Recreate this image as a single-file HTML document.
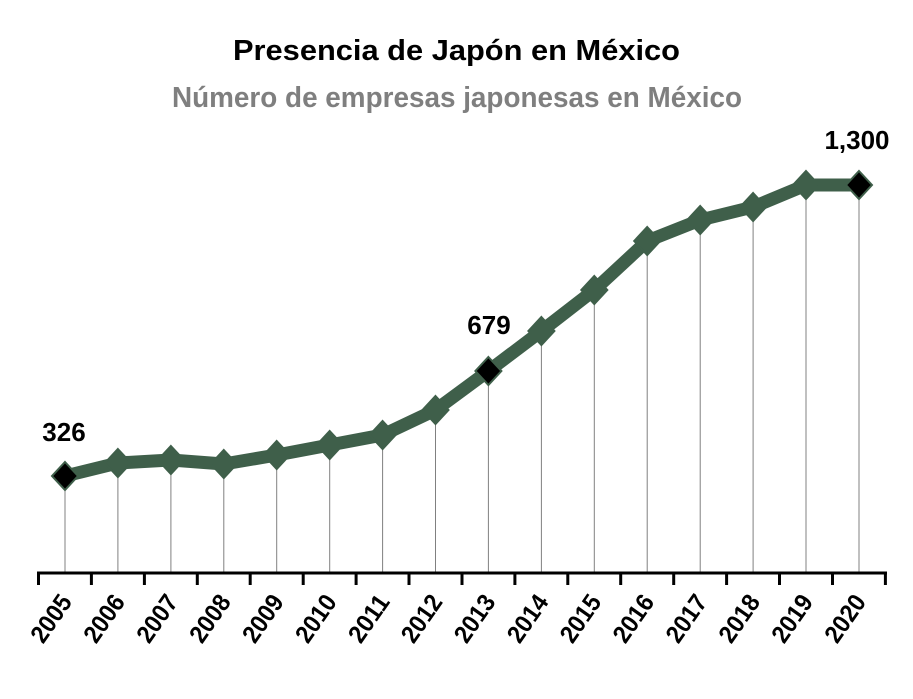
<!DOCTYPE html><html><head><style>body{margin:0;background:#fff}</style></head><body>
<svg width="913" height="694" xmlns="http://www.w3.org/2000/svg" font-family="Liberation Sans, sans-serif" font-weight="bold">
<text x="233" y="60" font-size="29" textLength="447" lengthAdjust="spacingAndGlyphs" fill="#000">Presencia de Japón en México</text>
<text x="172" y="107" font-size="29" textLength="570" lengthAdjust="spacingAndGlyphs" fill="#7f7f7f">Número de empresas japonesas en México</text>
<g stroke="#808080" stroke-width="1">
<line x1="65" y1="476" x2="65" y2="573"/><line x1="117.9" y1="463" x2="117.9" y2="573"/><line x1="170.9" y1="460" x2="170.9" y2="573"/><line x1="223.8" y1="464" x2="223.8" y2="573"/><line x1="276.7" y1="455" x2="276.7" y2="573"/><line x1="329.7" y1="445" x2="329.7" y2="573"/><line x1="382.6" y1="435" x2="382.6" y2="573"/><line x1="435.5" y1="410" x2="435.5" y2="573"/><line x1="488.4" y1="371" x2="488.4" y2="573"/><line x1="541.4" y1="331" x2="541.4" y2="573"/><line x1="594.3" y1="290" x2="594.3" y2="573"/><line x1="647.2" y1="241" x2="647.2" y2="573"/><line x1="700.2" y1="220" x2="700.2" y2="573"/><line x1="753.1" y1="207" x2="753.1" y2="573"/><line x1="806" y1="185" x2="806" y2="573"/><line x1="859" y1="185" x2="859" y2="573"/>
</g>
<g stroke="#000" stroke-width="3">
<line x1="37" y1="573" x2="887" y2="573"/>
<line x1="38.5" y1="572" x2="38.5" y2="585"/><line x1="91.4" y1="572" x2="91.4" y2="585"/><line x1="144.4" y1="572" x2="144.4" y2="585"/><line x1="197.3" y1="572" x2="197.3" y2="585"/><line x1="250.2" y1="572" x2="250.2" y2="585"/><line x1="303.2" y1="572" x2="303.2" y2="585"/><line x1="356.1" y1="572" x2="356.1" y2="585"/><line x1="409" y1="572" x2="409" y2="585"/><line x1="462" y1="572" x2="462" y2="585"/><line x1="514.9" y1="572" x2="514.9" y2="585"/><line x1="567.8" y1="572" x2="567.8" y2="585"/><line x1="620.7" y1="572" x2="620.7" y2="585"/><line x1="673.7" y1="572" x2="673.7" y2="585"/><line x1="726.6" y1="572" x2="726.6" y2="585"/><line x1="779.5" y1="572" x2="779.5" y2="585"/><line x1="832.5" y1="572" x2="832.5" y2="585"/><line x1="885.4" y1="572" x2="885.4" y2="585"/>
</g>
<polyline points="65,476 117.9,463 170.9,460 223.8,464 276.7,455 329.7,445 382.6,435 435.5,410 488.4,371 541.4,331 594.3,290 647.2,241 700.2,220 753.1,207 806,185 859,185" fill="none" stroke="#3f5f4a" stroke-width="13" stroke-linejoin="round"/>
<g fill="#3f5f4a" stroke="#3f5f4a" stroke-width="2">
<polygon points="117.9,449 130.9,463 117.9,477 104.9,463"/>
<polygon points="170.9,446 183.9,460 170.9,474 157.9,460"/>
<polygon points="223.8,450 236.8,464 223.8,478 210.8,464"/>
<polygon points="276.7,441 289.7,455 276.7,469 263.7,455"/>
<polygon points="329.7,431 342.7,445 329.7,459 316.7,445"/>
<polygon points="382.6,421 395.6,435 382.6,449 369.6,435"/>
<polygon points="435.5,396 448.5,410 435.5,424 422.5,410"/>
<polygon points="541.4,317 554.4,331 541.4,345 528.4,331"/>
<polygon points="594.3,276 607.3,290 594.3,304 581.3,290"/>
<polygon points="647.2,227 660.2,241 647.2,255 634.2,241"/>
<polygon points="700.2,206 713.2,220 700.2,234 687.2,220"/>
<polygon points="753.1,193 766.1,207 753.1,221 740.1,207"/>
<polygon points="806,171 819,185 806,199 793,185"/>
<polygon fill="#000" points="65,462 78,476 65,490 52,476"/>
<polygon fill="#000" points="488.4,357 501.4,371 488.4,385 475.4,371"/>
<polygon fill="#000" points="859,171 872,185 859,199 846,185"/>
</g>
<g font-size="25" text-anchor="end">
<text transform="translate(73,602) rotate(-55)" textLength="52" lengthAdjust="spacingAndGlyphs">2005</text>
<text transform="translate(125.9,602) rotate(-55)" textLength="52" lengthAdjust="spacingAndGlyphs">2006</text>
<text transform="translate(178.9,602) rotate(-55)" textLength="52" lengthAdjust="spacingAndGlyphs">2007</text>
<text transform="translate(231.8,602) rotate(-55)" textLength="52" lengthAdjust="spacingAndGlyphs">2008</text>
<text transform="translate(284.7,602) rotate(-55)" textLength="52" lengthAdjust="spacingAndGlyphs">2009</text>
<text transform="translate(337.7,602) rotate(-55)" textLength="52" lengthAdjust="spacingAndGlyphs">2010</text>
<text transform="translate(390.6,602) rotate(-55)" textLength="52" lengthAdjust="spacingAndGlyphs">2011</text>
<text transform="translate(443.5,602) rotate(-55)" textLength="52" lengthAdjust="spacingAndGlyphs">2012</text>
<text transform="translate(496.4,602) rotate(-55)" textLength="52" lengthAdjust="spacingAndGlyphs">2013</text>
<text transform="translate(549.4,602) rotate(-55)" textLength="52" lengthAdjust="spacingAndGlyphs">2014</text>
<text transform="translate(602.3,602) rotate(-55)" textLength="52" lengthAdjust="spacingAndGlyphs">2015</text>
<text transform="translate(655.2,602) rotate(-55)" textLength="52" lengthAdjust="spacingAndGlyphs">2016</text>
<text transform="translate(708.2,602) rotate(-55)" textLength="52" lengthAdjust="spacingAndGlyphs">2017</text>
<text transform="translate(761.1,602) rotate(-55)" textLength="52" lengthAdjust="spacingAndGlyphs">2018</text>
<text transform="translate(814,602) rotate(-55)" textLength="52" lengthAdjust="spacingAndGlyphs">2019</text>
<text transform="translate(867,602) rotate(-55)" textLength="52" lengthAdjust="spacingAndGlyphs">2020</text>
</g>
<g font-size="26" text-anchor="middle">
<text x="64" y="441">326</text>
<text x="489" y="334">679</text>
<text x="857" y="149">1,300</text>
</g>
</svg></body></html>
